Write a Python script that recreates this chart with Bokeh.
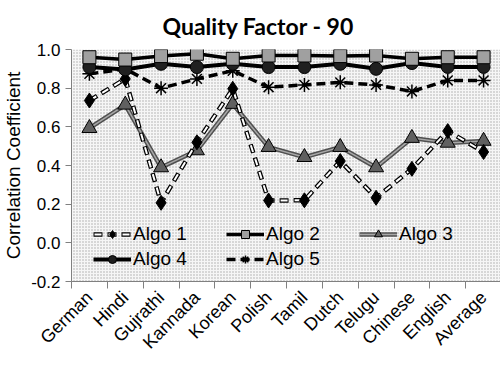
import numpy as np
from bokeh.plotting import figure
from bokeh.models import FixedTicker, Legend, LegendItem, Range1d, BoxAnnotation, Title
from bokeh.embed import file_html
from bokeh.resources import INLINE

categories = ["German", "Hindi", "Gujrathi", "Kannada", "Korean", "Polish",
              "Tamil", "Dutch", "Telugu", "Chinese", "English", "Average"]
algo1 = [0.736, 0.848, 0.207, 0.52, 0.797, 0.219, 0.22, 0.423, 0.233, 0.383, 0.578, 0.47]
algo2 = [0.96, 0.948, 0.966, 0.978, 0.952, 0.969, 0.969, 0.966, 0.969, 0.952, 0.96, 0.96]
algo3 = [0.593, 0.714, 0.39, 0.478, 0.718, 0.495, 0.443, 0.495, 0.39, 0.542, 0.517, 0.527]
algo4 = [0.909, 0.897, 0.926, 0.909, 0.926, 0.909, 0.909, 0.926, 0.9, 0.93, 0.91, 0.91]
algo5 = [0.874, 0.90, 0.80, 0.848, 0.89, 0.805, 0.817, 0.83, 0.817, 0.783, 0.84, 0.84]
y_ticks = [-0.2, 0.0, 0.2, 0.4, 0.6, 0.8, 1.0]

x = list(np.arange(len(categories)) + 0.5)

p = figure(frame_width=430, frame_height=232, output_backend="svg", toolbar_location=None,
           x_range=Range1d(0, len(categories)), y_range=Range1d(-0.2, 1.0),
           min_border_left=54, min_border_right=0, min_border_top=0, min_border_bottom=0,
           title=None)
p.add_layout(Title(text="Quality Factor - 90", align="left", offset=91, text_font="Lato",
                   text_font_size="23px", text_font_style="bold", text_color="black",
                   standoff=19), "above")
p.outline_line_color = None
p.background_fill_color = "white"
p.border_fill_color = "white"
p.grid.visible = False

p.add_layout(BoxAnnotation(left=0, right=len(categories), bottom=-0.2, top=1.0,
                           fill_color="#f6f6f6", fill_alpha=1, line_color=None,
                           hatch_pattern="dot", hatch_color="#a8a8a8", hatch_scale=3,
                           hatch_weight=1, level="underlay"))

# x axis
p.xaxis.ticker = FixedTicker(ticks=x, minor_ticks=list(range(len(categories) + 1)))
p.xaxis.major_label_overrides = {float(v): c for v, c in zip(x, categories)}
p.xaxis.major_label_orientation = np.pi / 4
p.xaxis.major_tick_line_color = None
p.xaxis.major_tick_out = 0
p.xaxis.major_tick_in = 0
p.xaxis.minor_tick_line_color = "#808080"
p.xaxis.minor_tick_out = 7
p.xaxis.minor_tick_in = 0
p.xaxis.axis_line_color = "#808080"
p.xaxis.major_label_text_font = "Liberation Sans"
p.xaxis.major_label_text_font_size = "18px"
p.xaxis.major_label_text_color = "black"
p.xaxis.major_label_standoff = 6

# y axis
p.yaxis.ticker = FixedTicker(ticks=y_ticks)
p.yaxis.major_label_overrides = {v: f"{v:.1f}" for v in y_ticks}
p.yaxis.minor_tick_line_color = None
p.yaxis.major_tick_line_color = "#808080"
p.yaxis.major_tick_out = 6
p.yaxis.major_tick_in = 0
p.yaxis.axis_line_color = "#808080"
p.yaxis.major_label_text_font = "Liberation Sans"
p.yaxis.major_label_text_font_size = "17px"
p.yaxis.major_label_text_color = "black"
p.yaxis.axis_label = "Correlation Coefficient"
p.yaxis.axis_label_text_font = "Liberation Sans"
p.yaxis.axis_label_text_font_size = "19px"
p.yaxis.axis_label_text_font_style = "normal"
p.yaxis.axis_label_text_color = "black"
p.yaxis.axis_label_standoff = 4

# Algo 3 (gray double line, triangles)
r3a = p.line(x, algo3, line_color="#505050", line_width=4.5)
r3b = p.line(x, algo3, line_color="#a8a8a8", line_width=1.5)
r3m = p.scatter(x, algo3, marker="triangle", size=15, fill_color="#606060", line_color="black", line_width=1)

# Algo 1 (double dashed, diamonds)
r1a = p.line(x, algo1, line_color="black", line_width=4.5, line_dash="9 5")
r1b = p.line(x, algo1, line_color="white", line_width=2, line_dash="7 7", line_dash_offset=-1)
r1m = p.scatter(x, algo1, marker="diamond", size=15, fill_color="black", line_color="black")

# Algo 5 (dashed, asterisks)
r5a = p.line(x, algo5, line_color="black", line_width=3.5, line_dash="9 5")
r5m = p.scatter(x, algo5, marker="asterisk", size=14, line_color="black", line_width=1.5)

# Algo 4 (black, circles)
r4a = p.line(x, algo4, line_color="black", line_width=4)
r4m = p.scatter(x, algo4, marker="circle", size=13, fill_color="#202020", line_color="black")

# Algo 2 (black line, gray squares)
r2a = p.line(x, algo2, line_color="black", line_width=3.5)
r2m = p.scatter(x, algo2, marker="square", size=13, fill_color="#a0a0a0", line_color="black", line_width=1)

# items listed column by column (legend fills columns first)
legend = Legend(items=[
    LegendItem(label="Algo 1", renderers=[r1a, r1b, r1m]),
    LegendItem(label="Algo 4", renderers=[r4a, r4m]),
    LegendItem(label="Algo 2", renderers=[r2a, r2m]),
    LegendItem(label="Algo 5", renderers=[r5a, r5m]),
    LegendItem(label="Algo 3", renderers=[r3a, r3b, r3m]),
], location=(22, 11), ncols=3, glyph_width=38, glyph_height=20, label_standoff=2,
    label_width=90, spacing=3, padding=0, margin=0,
    background_fill_alpha=0, border_line_color=None,
    label_text_font="Liberation Sans", label_text_font_size="19px", label_text_color="black")
p.add_layout(legend)

open("out.html", "w").write(file_html(p, INLINE))
